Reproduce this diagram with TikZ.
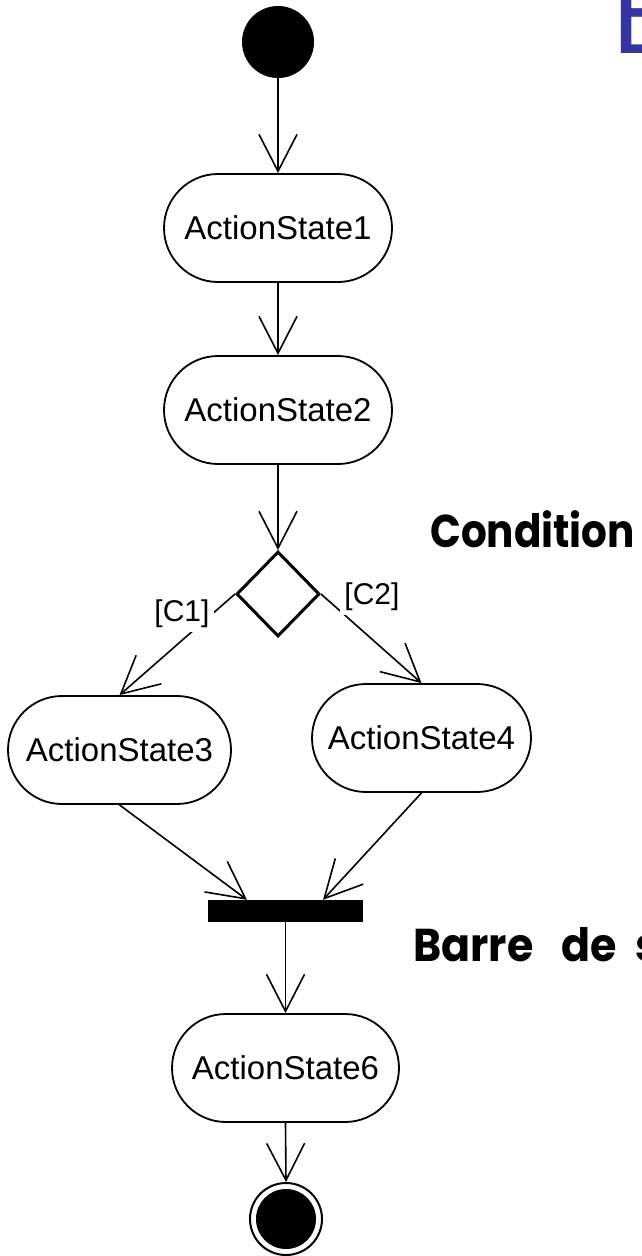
\documentclass[tikz,border=0pt]{standalone}
\usepackage{fontspec}
\setmainfont{Liberation Sans}
\newfontfamily\comicfont{Poppins}
\usetikzlibrary{arrows.meta,shapes.geometric,calc}
\definecolor{titleblue}{RGB}{52,52,162}
\begin{document}
\begin{tikzpicture}[x=1pt,y=-1pt,
  action/.style={draw, line width=1.8pt, rectangle, rounded corners=54pt,
    minimum height=108pt, inner sep=0pt, font=\fontsize{33}{36}\selectfont},
  flow/.style={line width=1.6pt, -{Straight Barb[length=37pt,width=38pt]}},
  guard/.style={fill=white, inner sep=4pt, font=\fontsize{30}{32}\selectfont},
  note/.style={anchor=base west, inner sep=0pt, font=\comicfont\bfseries\fontsize{46}{50}\selectfont}
]
\useasboundingbox (0,0) rectangle (642,1256);
\clip (0,0) rectangle (642,1256);
\fill[white] (0,0) rectangle (642,1256);

% nodes
\node (init) [circle, fill=black, minimum size=72pt, inner sep=0pt] at (278,42) {};
\node (as1) [action, minimum width=228pt] at (278,228) {ActionState1};
\node (as2) [action, minimum width=228pt] at (278,410) {ActionState2};
\node (dec) [diamond, draw, line width=3pt, minimum width=83pt, minimum height=85pt, inner sep=0pt] at (278,594) {};
\node (as3) [action, minimum width=223pt] at (119.5,750) {ActionState3};
\node (as4) [action, minimum width=219pt] at (421.5,738) {ActionState4};
\node (bar) [rectangle, fill=black, minimum width=155pt, minimum height=22pt, inner sep=0pt] at (285.5,911) {};
\node (as6) [action, minimum width=227pt] at (285.5,1068) {ActionState6};
\node (final) [circle, draw, line width=2pt, minimum size=72pt, inner sep=0pt] at (286,1219) {};
\node (finalcore) [circle, fill=black, minimum size=60pt, inner sep=0pt] at (final.center) {};

\coordinate (barL) at ($(bar.north)+(-38.5,0)$);
\coordinate (barR) at ($(bar.north)+(37.5,0)$);

% connectors
\draw[flow] (init) -- (as1.north);
\draw[flow] (as1.south) -- (as2.north);
\draw[flow] (as2.south) -- (dec.north);
\draw[flow] (dec.west) -- (as3.north);
\draw[flow] (dec.east) -- (as4.north);
\draw[flow] (as3.south) -- (barL);
\draw[flow] (as4.south) -- (barR);
\draw[flow] (bar.south) -- (as6.north);
\draw[flow] (as6.south) -- (final.north);

% guards
\node (c1) [guard] at (182,614) {[C1]};
\node (c2) [guard] at (372,597) {[C2]};

% notes
\node (cond) [note] at (430,547) {\scalebox{0.88}[1]{Condition}};
\node (barre) [note] at (413,961) {\scalebox{0.93}[1]{Barre\hspace{30pt}de\hspace{20pt}s}};
\node (title) [anchor=base west, inner sep=0pt, text=titleblue, font=\comicfont\fontsize{115}{120}\selectfont] at (612,53) {E};
\end{tikzpicture}
\end{document}
